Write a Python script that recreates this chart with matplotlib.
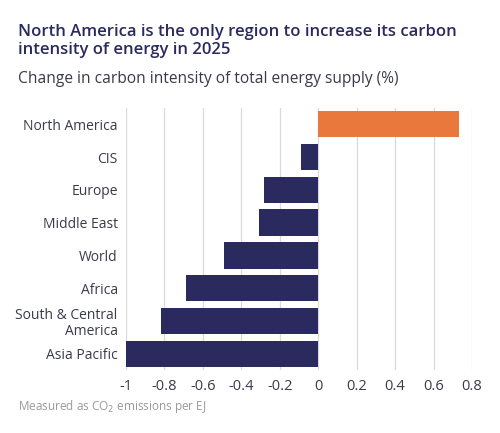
import matplotlib.pyplot as plt

regions = ["North America", "CIS", "Europe", "Middle East", "World",
           "Africa", "South & Central\nAmerica", "Asia Pacific"]
changes = [0.73, -0.09, -0.28, -0.31, -0.49, -0.69, -0.82, -1.0]
xticks = [-1, -0.8, -0.6, -0.4, -0.2, 0, 0.2, 0.4, 0.6, 0.8]
xlabels = ["-1", "-0.8", "-0.6", "-0.4", "-0.2", "0", "0.2", "0.4", "0.6", "0.8"]

navy = "#2b2a5e"
orange = "#e8783c"
text_col = "#3a3a4a"

plt.rcParams["font.family"] = ["Open Sans", "DejaVu Sans"]

fig = plt.figure(figsize=(5, 4.33), dpi=100)
ax = fig.add_axes([0.252, 0.145, 0.692, 0.606])

colors = [orange if v > 0 else navy for v in changes]
ypos = list(range(len(regions)))
ax.barh(ypos, changes, height=0.8, color=colors, zorder=3)
ax.set_ylim(len(regions) - 0.5, -0.5)
ax.set_xlim(-1, 0.8)
ax.set_xticks(xticks)
ax.set_xticklabels(xlabels, fontsize=10.5, color=text_col)
ax.set_yticks(ypos)
ax.set_yticklabels(regions, fontsize=10, color=text_col, linespacing=1.1)
ax.grid(axis="x", color="#d9d9d9", linewidth=0.9, zorder=0)
ax.tick_params(length=0, pad=6)
for s in ax.spines.values():
    s.set_visible(False)

fig.text(0.036, 0.945, "North America is the only region to increase its carbon\nintensity of energy in 2025",
         fontsize=12, color=navy, fontweight="semibold", va="top", linespacing=1.15)
fig.text(0.036, 0.835, "Change in carbon intensity of total energy supply (%)",
         fontsize=11.2, color=text_col, va="top")
fig.text(0.036, 0.053, "Measured as CO$_2$ emissions per EJ", fontsize=8.5, color="#9a9a9a")

fig.savefig("out.png", dpi=100)
